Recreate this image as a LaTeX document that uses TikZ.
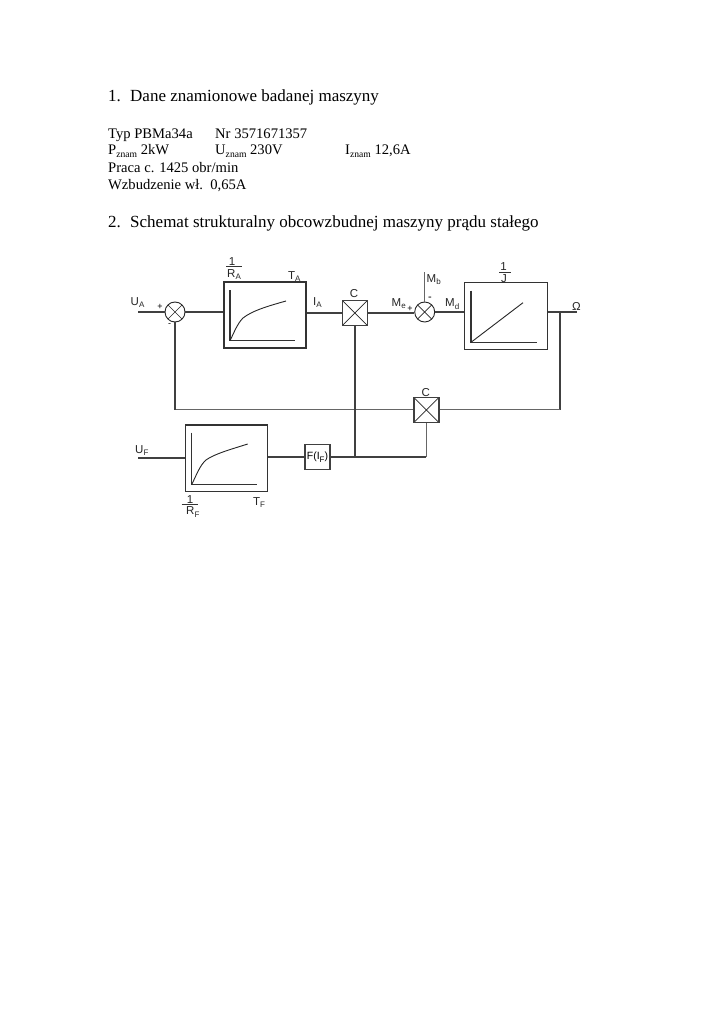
\documentclass[tikz,border=0pt]{standalone}
\usepackage{fontspec}
\setmainfont{Liberation Serif}
\newfontfamily\labfont{Liberation Sans}
\newcommand\zsub[1]{\raisebox{-0.16em}{\fontsize{9.6}{10}\selectfont #1}}
\newcommand\lsub[1]{\raisebox{-0.25em}{\fontsize{8}{8}\selectfont #1}}
\tikzset{
  doc/.style={anchor=base west,inner sep=0pt,font=\fontsize{14.6}{16}\selectfont},
  head/.style={anchor=base west,inner sep=0pt,font=\fontsize{17}{19}\selectfont},
  lab/.style={anchor=base west,inner sep=0pt,text=black!85,font=\labfont\fontsize{11.5}{12}\selectfont},
  sgn/.style={inner sep=0pt,font=\labfont\fontsize{9}{9}\selectfont},
  wire/.style={line width=1.5pt,black!75,line join=miter},
  thinw/.style={line width=1.5pt,black!60,line join=miter},
  blockbox/.style={draw=black!80,line width=1.5pt,fill=none,inner sep=0pt,minimum width=#1},
  sumnode/.style={circle,draw=black!85,line width=.9pt,minimum size=20pt,inner sep=0pt,
    path picture={\draw[line width=.7pt,black!85] (path picture bounding box.south west)--(path picture bounding box.north east)
      (path picture bounding box.south east)--(path picture bounding box.north west);}},
  mulnode/.style={rectangle,draw=black!75,line width=1.5pt,minimum size=25pt,inner sep=0pt,
    path picture={\draw[line width=.7pt,black!85] (path picture bounding box.south west)--(path picture bounding box.north east)
      (path picture bounding box.south east)--(path picture bounding box.north west);}},
  axis/.style={line width=1.5pt,black!80},
  curvel/.style={line width=.9pt,black!85,line join=round},
  fracbar/.style={line width=.9pt,black!80},
}
\begin{document}
\begin{tikzpicture}[x=1pt,y=-1pt]
\useasboundingbox (0,0) rectangle (724,1024);
\fill[white] (0,0) rectangle (724,1024);
% Text
\node[head] (h1n) at (108,102) {1.};
\node[head] (h1) at (130,102) {Dane znamionowe badanej maszyny};
\node[doc] (t1a) at (108,138.5) {Typ PBMa34a};
\node[doc] (t1b) at (215,138.5) {Nr 3571671357};
\node[doc] (t2a) at (108,155) {P\zsub{znam} 2kW};
\node[doc] (t2b) at (215,155) {U\zsub{znam} 230V};
\node[doc] (t2c) at (345,155) {I\zsub{znam} 12,6A};
\node[doc] (t3) at (108,172.7) {Praca c. 1425 obr/min};
\node[doc] (t4) at (108,189.3) {Wzbudzenie wł.\ \ 0,65A};
\node[head] (h2n) at (108,228) {2.};
\node[head] (h2) at (130,228) {Schemat strukturalny obcowzbudnej maszyny prądu stałego};
% Blocks
\node[blockbox=82.3pt,minimum height=66pt] (ba) at (265,315) {};
\node[blockbox=82.6pt,minimum height=66.6pt] (bj) at (506,316) {};
\node[blockbox=82pt,minimum height=66.3pt] (bf) at (226.7,458.2) {};
\node[sumnode] (s1) at (175,312) {};
\node[sumnode] (s2) at (424.7,312) {};
\node[mulnode] (m1) at (354.8,313) {};
\node[mulnode] (m2) at (426.4,410) {};
\node[rectangle,draw=black!75,line width=1.5pt,minimum size=25pt,inner sep=0pt,font=\labfont\fontsize{10.5}{11}\selectfont] (ff) at (317.5,457) {F(I\lsub{F})};
% Free ends and junctions
\coordinate (ua) at (138,312);
\coordinate (uf) at (138,458);
\coordinate (om) at (577,312);
\coordinate (mb) at (424.7,272);
\coordinate (jw) at (560,312);
\coordinate (js) at (560,409.5);
\coordinate (jc) at (175,409.5);
\coordinate (jv) at (354.8,457);
\coordinate (jr) at (426.4,457);
% Connectors
\draw[wire] (ua) -- (s1.west);
\draw[wire] (s1.east) -- (s1.east -| ba.west);
\draw[wire] (ba.east |- m1.west) -- (m1.west);
\draw[wire] (m1.east) -- (m1.east -| s2.west);
\draw[wire] (s2.east) -- (s2.east -| bj.west);
\draw[wire] (bj.east |- om) -- (om);
\draw[wire] (jw) -- (js);
\draw[thinw] (js) -- (js -| m2.east);
\draw[thinw] (m2.west |- jc) -- (jc);
\draw[wire] (jc) -- (s1.south);
\draw[wire] (m1.south) -- (jv);
\draw[wire] (uf) -- (uf -| bf.west);
\draw[wire] (bf.east |- ff.west) -- (ff.west);
\draw[wire] (ff.east) -- (jr);
\draw[thinw] (jr) -- (m2.south);
\draw[thinw] (mb) -- (s2.north);
% Graphs
\draw[axis] (230,290) -- (230,340.7) -- (295,340.7);
\draw[curvel] (230,340.5) .. controls (234,333) and (237,324) .. (243,318) .. controls (253,310) and (272,305) .. (286,301);
\draw[axis] (471,290.7) -- (471,342.3) -- (536.7,342.3);
\draw[curvel] (471,342.3) -- (523,302.7);
\draw[axis] (191.7,432.7) -- (191.7,484.7) -- (256.7,484.7);
\draw[curvel] (191.7,484.5) .. controls (196,476) and (200,465) .. (206,460) .. controls (214,454) and (232,449) .. (247.7,444);
% Labels
\node[lab] (lua) at (130.5,305) {U\lsub{A}};
\node[sgn] (pl1) at (160,307) {+};
\node[sgn] (mi1) at (169.5,325.5) {-};
\node[lab,anchor=base] (one1) at (232,265) {1};
\node[lab] (lra) at (227,277) {R\lsub{A}};
\coordinate (fa1) at (226,266);\coordinate (fa2) at (242,266);
\draw[fracbar] (fa1) -- (fa2);
\node[lab] (lta) at (288,279) {T\lsub{A}};
\node[lab] (lia) at (313,305) {I\lsub{A}};
\node[lab,anchor=base] (lc1) at (354,297.5) {C};
\node[lab,anchor=base] (lc2) at (425.7,396) {C};
\node[lab] (lme) at (391.5,306) {M\lsub{e}};
\node[sgn] (pl2) at (410,309) {+};
\node[lab] (lmb) at (426.5,282) {M\lsub{b}};
\node[sgn,font=\labfont\fontsize{11}{11}\selectfont] (mi2) at (430,298.5) {-};
\node[lab] (lmd) at (445,306.5) {M\lsub{d}};
\node[lab,anchor=base] (one2) at (503.5,270.5) {1};
\node[lab,anchor=base] (lj) at (504,282.5) {J};
\coordinate (fj1) at (499,272.7);\coordinate (fj2) at (511,272.7);
\draw[fracbar] (fj1) -- (fj2);
\node[lab] (lom) at (572,310) {Ω};
\node[lab] (luf) at (135,453) {U\lsub{F}};
\node[lab,anchor=base] (one3) at (190,503) {1};
\node[lab] (lrf) at (186,514.5) {R\lsub{F}};
\coordinate (ff1) at (181.7,504.7);\coordinate (ff2) at (198,504.7);
\draw[fracbar] (ff1) -- (ff2);
\node[lab] (ltf) at (253,505) {T\lsub{F}};
\end{tikzpicture}
\end{document}
